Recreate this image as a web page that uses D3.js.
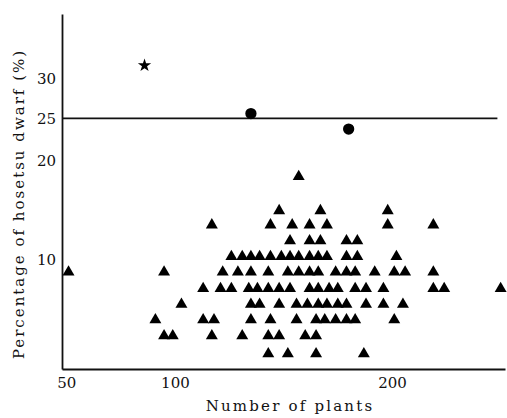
<!DOCTYPE html>
<html>
<head>
<meta charset="utf-8">
<script src="https://cdn.jsdelivr.net/npm/d3@7"></script>
<style>
  body { margin: 0; background: #fff; }
  svg text { font-family: "DejaVu Serif", "Liberation Serif", serif; fill: #111; }
  .axis path { stroke: #111; stroke-width: 1.8; }
  .axis text { font-size: 15px; }
</style>
</head>
<body>
<div id="chart"></div>
<script>
/* Scatter of hosetsu dwarf percentage vs number of plants */

const width = 507, height = 418;

// triangle rows: percentage of each row and the plant counts in it
const rowPct = [18.2, 14.6, 13.2, 11.7, 10.3, 9.0, 7.7, 6.55, 5.5, 4.5, 3.5];
const rowPlants = [
  [157],
  [148, 167, 198],
  [117, 144, 154, 162, 170, 198, 219],
  [153, 162, 167, 179, 184],
  [126, 131, 135, 139, 144, 149, 153, 157, 162, 166, 170, 179, 184, 202],
  [51, 95, 122, 129, 135, 143, 152, 157, 162, 166, 174, 179, 183, 192, 201, 206, 219],
  [113, 121, 126, 134, 138, 143, 148, 153, 162, 166, 171, 175, 183, 188, 196, 219, 224, 250],
  [103, 135, 139, 148, 156, 161, 166, 170, 175, 179, 188, 196, 205],
  [91, 113, 118, 135, 144, 156, 165, 169, 174, 179, 183, 201],
  [95, 99, 117, 131, 143, 148, 160, 165],
  [143, 152, 165, 187]
];

// circles and star above the line
const circlePlants = [135, 180];
const circlePct = [25.6, 23.7];
const starPlants = [86];
const starPct = [31.8];

const xTicks = [50, 100, 200];
const yTicks = [10, 20, 25, 30];
const thresholdPct = 25;

const margin = ({ top: 14, right: 2, bottom: 49, left: 62 });

const svg = d3.select("#chart")
  .append("svg")
  .attr("width", width)
  .attr("height", height);

// angular (arcsine square root) transform of percentages
const ang = p => Math.asin(Math.sqrt(p / 100));

let x = d3.scaleLinear()
  .domain([48, 252])
  .range([margin.left, width - margin.right]);

let yAng = d3.scaleLinear()
  .domain([ang(2.75), ang(38.8)])
  .range([height - margin.bottom, margin.top]);

const y = p => yAng(ang(p));

// y axis
svg.append("g")
  .attr("class", "axis")
  .attr("transform", `translate(${margin.left},0)`)
  .call(d3.axisLeft(yAng).tickValues(yTicks.map(ang)).tickSize(0).tickPadding(6)
    .tickFormat((d, i) => yTicks[i]));

// x axis
svg.append("g")
  .attr("class", "axis")
  .attr("transform", `translate(0,${height - margin.bottom})`)
  .call(d3.axisBottom(x).tickValues(xTicks).tickSize(0).tickPadding(8));

// 25% line
svg.append("line")
  .attr("x1", x(48))
  .attr("x2", x(248.5))
  .attr("y1", y(thresholdPct))
  .attr("y2", y(thresholdPct))
  .attr("stroke", "#111")
  .attr("stroke-width", 1.8);

// triangles
const tri = [];
rowPct.forEach((p, i) => rowPlants[i].forEach(n => tri.push({ n: n, p: p })));

svg.append("g")
  .selectAll("path")
  .data(tri)
  .join("path")
  .attr("transform", d => `translate(${x(d.n)},${y(d.p)})`)
  .attr("d", d3.symbol(d3.symbolTriangle, 62))
  .attr("fill", "#000");

svg.append("g")
  .selectAll("path")
  .data(circlePlants)
  .join("path")
  .attr("transform", (d, i) => `translate(${x(d)},${y(circlePct[i])})`)
  .attr("d", d3.symbol(d3.symbolCircle, 100))
  .attr("fill", "#000");

svg.append("g")
  .selectAll("path")
  .data(starPlants)
  .join("path")
  .attr("transform", (d, i) => `translate(${x(d)},${y(starPct[i])})`)
  .attr("d", d3.symbol(d3.symbolStar, 55))
  .attr("fill", "#000");

// axis labels
svg.append("text")
  .attr("text-anchor", "middle")
  .attr("x", 290)
  .attr("y", 411)
  .attr("font-size", 15)
  .attr("letter-spacing", 2.2)
  .text("Number of plants");

svg.append("text")
  .attr("text-anchor", "middle")
  .attr("transform", "rotate(-90)")
  .attr("x", -204)
  .attr("y", 24)
  .attr("font-size", 15)
  .attr("letter-spacing", 2.0)
  .text("Percentage of hosetsu dwarf (%)");
</script>
</body>
</html>
